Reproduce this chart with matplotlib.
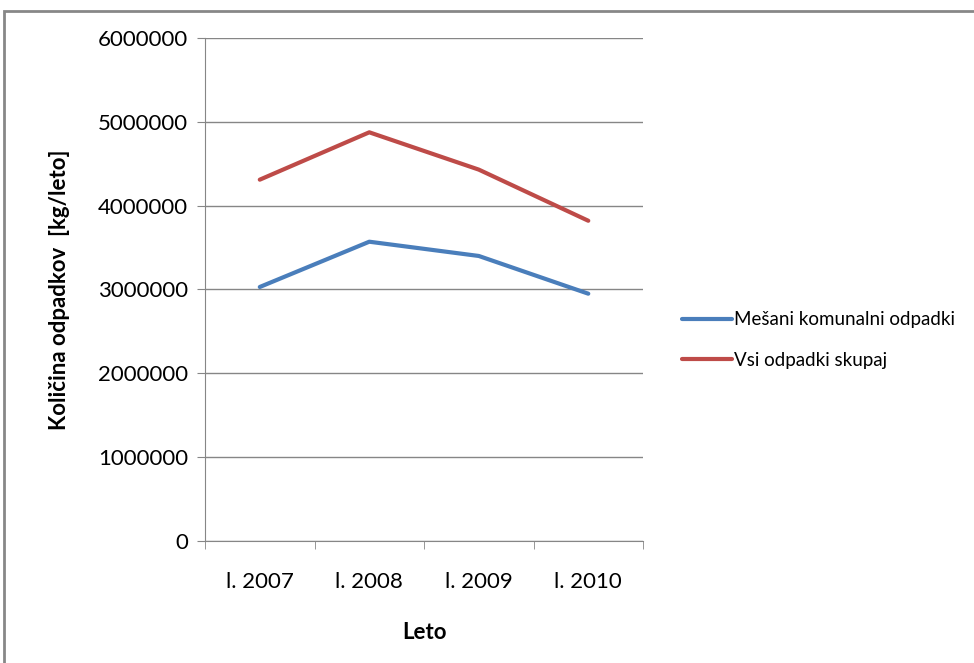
import matplotlib
matplotlib.use("Agg")
import matplotlib.pyplot as plt
from matplotlib.patches import Rectangle

# Data
years = ["l. 2007", "l. 2008", "l. 2009", "l. 2010"]
mesani = [3030000, 3570000, 3400000, 2950000]
vsi = [4310000, 4875000, 4430000, 3820000]
yticks = [0, 1000000, 2000000, 3000000, 4000000, 5000000, 6000000]

plt.rcParams["font.family"] = ["Lato", "DejaVu Sans"]
grid_col = "#868686"

fig = plt.figure(figsize=(9.74, 6.63), dpi=100)
ax = fig.add_axes([0.2105, 0.184, 0.4497, 0.7587])

x = range(len(years))
ax.plot(x, mesani, color="#4A7EBB", lw=3, solid_capstyle="round",
        label="Mešani komunalni odpadki")
ax.plot(x, vsi, color="#BE4B48", lw=3, solid_capstyle="round",
        label="Vsi odpadki skupaj")

ax.set_xlim(-0.5, 3.5)
ax.set_ylim(0, 6000000)
ax.set_yticks(yticks)
ax.set_yticklabels([str(v) for v in yticks])
ax.set_xticks(list(x))
ax.set_xticklabels(years)
ax.set_xticks([-0.5, 0.5, 1.5, 2.5, 3.5], minor=True)
ax.tick_params(axis="x", which="major", length=0, pad=22, labelsize=16)
ax.tick_params(axis="x", which="minor", length=6, color=grid_col)
ax.tick_params(axis="y", length=6, color=grid_col, pad=6, labelsize=16)

ax.grid(axis="y", color=grid_col, lw=1)
ax.set_axisbelow(True)
for s in ["top", "right"]:
    ax.spines[s].set_visible(False)
for s in ["left", "bottom"]:
    ax.spines[s].set_color(grid_col)

ax.set_ylabel("Količina odpadkov  [kg/leto]", fontsize=16, fontweight="bold",
              labelpad=20)
ax.set_xlabel("Leto", fontsize=16, fontweight="bold", labelpad=22)

ax.legend(loc="center left", bbox_to_anchor=(1.05, 0.40), frameon=False,
          fontsize=13.5, handlelength=2.7, handletextpad=0.1, labelspacing=1.25)

# outer chart frame
fig.patches.append(Rectangle((4 / 974, -0.1), 1.2, 1 - 11 / 663 + 0.1,
                             transform=fig.transFigure, fill=False,
                             edgecolor="#878787", lw=2))

fig.savefig("out.png", dpi=100)
